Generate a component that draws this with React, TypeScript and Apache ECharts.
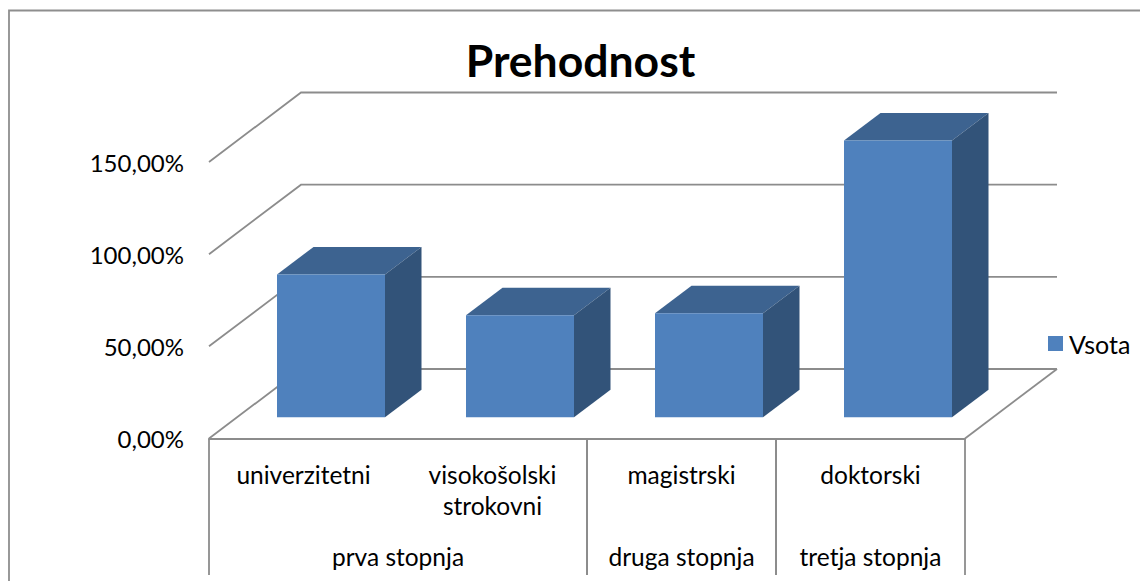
import React, { useEffect, useRef } from "react";
import * as echarts from "echarts";

const titleText = "Prehodnost";
const seriesName = "Vsota";
const categories = ["univerzitetni", "visokošolski\nstrokovni", "magistrski", "doktorski"];
const values = [77.5, 55.4, 56.4, 150.2];
const yTicks = [0, 50, 100, 150];
const groupNames = ["prva stopnja", "druga stopnja", "tretja stopnja"];
const groupStarts = [0, 2, 3];
const groupEnds = [1, 2, 3];

const FONT = "Lato, Carlito, sans-serif";
const WALL = "#8c8c8c";
const LINE_W = 1.8;
const FRONT = "#4F81BD";
const TOP = "#3D6390";
const SIDE = "#325379";
const DEPTH_X = 92;
const DEPTH_Y = -69.5;
const BAR_W = 108;
const BAR_DX = 27.5;
const BAR_DY = -21.2;
const BAR_DEPTH_X = 36.5;
const BAR_DEPTH_Y = -27.5;

function renderWalls(_params: any, api: any) {
  const v = api.value(1);
  const cs = _params.coordSys;
  const left = cs.x;
  const right = cs.x + cs.width;
  const y = api.coord([0, v])[1];
  const children: any[] = [
    {
      type: "polyline",
      shape: { points: [[left, y], [left + DEPTH_X, y + DEPTH_Y], [right + DEPTH_X, y + DEPTH_Y]] },
      style: { fill: "none", stroke: WALL, lineWidth: LINE_W },
    },
  ];
  if (v === 0) {
    children.push({
      type: "line",
      shape: { x1: right + DEPTH_X, y1: y + DEPTH_Y, x2: right, y2: y },
      style: { stroke: WALL, lineWidth: LINE_W },
    });
  }
  return { type: "group", children };
}

function renderBar(_params: any, api: any) {
  const c = api.coord([api.value(0), api.value(1)]);
  const base = api.coord([api.value(0), 0]);
  const x0 = c[0] + BAR_DX - BAR_W / 2;
  const x1 = x0 + BAR_W;
  const yTop = c[1] + BAR_DY;
  const yBase = base[1] + BAR_DY;
  const dx = BAR_DEPTH_X;
  const dy = BAR_DEPTH_Y;
  return {
    type: "group",
    children: [
      {
        type: "polygon",
        shape: { points: [[x0, yTop], [x1, yTop], [x1 + dx, yTop + dy], [x0 + dx, yTop + dy]] },
        style: { fill: TOP },
      },
      {
        type: "polygon",
        shape: { points: [[x1, yTop], [x1 + dx, yTop + dy], [x1 + dx, yBase + dy], [x1, yBase]] },
        style: { fill: SIDE },
      },
      {
        type: "rect",
        shape: { x: x0, y: yTop, width: BAR_W, height: yBase - yTop },
        style: { fill: FRONT },
      },
    ],
  };
}

function renderGroup(params: any, api: any) {
  const band = api.size([1, 0])[0];
  const y0 = api.coord([0, 0])[1];
  const x0 = api.coord([api.value(0), 0])[0] - band / 2;
  const x1 = api.coord([api.value(1), 0])[0] + band / 2;
  const yBottom = 575;
  const line = (x: number) => ({
    type: "line",
    shape: { x1: x, y1: y0, x2: x, y2: yBottom },
    style: { stroke: WALL, lineWidth: LINE_W },
  });
  return {
    type: "group",
    children: [
      line(x0),
      line(x1),
      {
        type: "text",
        x: (x0 + x1) / 2,
        y: 556,
        style: {
          text: groupNames[params.dataIndex],
          align: "center",
          verticalAlign: "middle",
          font: `24.5px ${FONT}`,
          fill: "#000",
        },
      },
    ],
  };
}

export default function App() {
  const ref = useRef<HTMLDivElement>(null);
  useEffect(() => {
    const chart = echarts.init(ref.current!, undefined, { renderer: "svg" });
    chart.setOption({
      animation: false,
      backgroundColor: "#fff",
      title: {
        text: titleText,
        left: 580.5,
        top: 37,
        padding: 0,
        textAlign: "center",
        textStyle: { fontFamily: FONT, fontSize: 44.5, fontWeight: "bold", color: "#000" },
      },
      legend: {
        data: [{ name: seriesName, icon: "rect" }],
        left: 1043,
        top: 326,
        itemWidth: 15,
        itemHeight: 15,
        itemGap: 0,
        selectedMode: false,
        textStyle: { fontFamily: FONT, fontSize: 25, color: "#000", padding: [0, 0, 0, 1] },
      },
      grid: { left: 209, right: 175, top: 162, bottom: 142.5, containLabel: false },
      xAxis: {
        type: "category",
        data: categories,
        axisLine: { show: true, lineStyle: { color: WALL, width: LINE_W } },
        axisTick: { show: false },
        splitLine: { show: false },
        axisLabel: {
          interval: 0,
          margin: 20,
          fontFamily: FONT,
          fontSize: 24.5,
          lineHeight: 31,
          color: "#000",
        },
      },
      yAxis: {
        type: "value",
        min: 0,
        max: 150,
        interval: 50,
        axisLine: { show: false },
        axisTick: { show: false },
        splitLine: { show: false },
        axisLabel: {
          margin: 25,
          fontFamily: FONT,
          fontSize: 24,
          color: "#000",
          formatter: (v: number) => `${v.toFixed(2).replace(".", ",")}%`,
        },
      },
      graphic: [
        {
          type: "polyline",
          silent: true,
          shape: { points: [[9, 581], [9, 10.5], [1140, 10.5]] },
          style: { fill: "none", stroke: "#8e8e8e", lineWidth: LINE_W },
        },
      ],
      series: [
        {
          type: "custom",
          silent: true,
          renderItem: renderWalls,
          encode: { x: 0, y: 1 },
          data: yTicks.map((v) => [0, v]),
          z: 1,
        },
        {
          type: "custom",
          silent: true,
          renderItem: renderGroup,
          encode: { x: 0 },
          data: groupNames.map((_, i) => [groupStarts[i], groupEnds[i]]),
          z: 1,
        },
        {
          name: seriesName,
          type: "custom",
          color: FRONT,
          itemStyle: { color: FRONT },
          renderItem: renderBar,
          encode: { x: 0, y: 1 },
          data: values.map((v, i) => [i, v]),
          z: 2,
        },
      ],
    });
    return () => chart.dispose();
  }, []);
  return (
    <div
      ref={ref}
      style={{ position: "fixed", left: 0, top: 0, width: 1140, height: 581, overflow: "hidden" }}
    />
  );
}
